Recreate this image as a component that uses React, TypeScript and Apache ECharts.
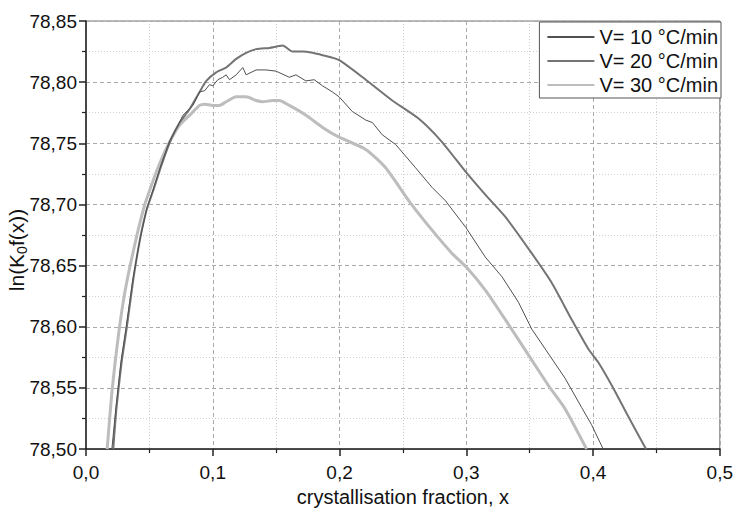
import React, { useEffect, useRef } from "react";
import * as echarts from "echarts";

const seriesNames = ["V= 10 °C/min", "V= 20 °C/min", "V= 30 °C/min"];
const xAxisName = "crystallisation fraction, x";
const yAxisName = "ln(K{sub|0}f(x))";
const xRange = { min: 0, max: 0.5, interval: 0.1 };
const yRange = { min: 78.5, max: 78.85, interval: 0.05 };

const v10: [number, number][] = [
  [0.0204, 78.5], [0.0236, 78.534], [0.0275, 78.571], [0.0314, 78.598], [0.037, 78.639],
  [0.0425, 78.671], [0.048, 78.697], [0.0535, 78.714], [0.0597, 78.734], [0.066, 78.752],
  [0.0713, 78.762], [0.0765, 78.773], [0.0844, 78.781], [0.0896, 78.792], [0.0936, 78.793],
  [0.0975, 78.798], [0.1001, 78.797], [0.104, 78.802], [0.1079, 78.804], [0.1106, 78.806],
  [0.1132, 78.802], [0.1185, 78.806], [0.1237, 78.812], [0.1263, 78.806], [0.1342, 78.81],
  [0.1421, 78.81], [0.1499, 78.809], [0.1604, 78.804], [0.1656, 78.806], [0.1735, 78.801],
  [0.18, 78.802], [0.1866, 78.797], [0.1944, 78.792], [0.1997, 78.788], [0.2101, 78.776],
  [0.2207, 78.769], [0.2259, 78.767], [0.2337, 78.757], [0.2443, 78.749], [0.26, 78.73],
  [0.273, 78.714], [0.2836, 78.703], [0.2998, 78.681], [0.315, 78.657], [0.3281, 78.641],
  [0.3412, 78.62], [0.3517, 78.598], [0.3622, 78.582], [0.3779, 78.558], [0.391, 78.534],
  [0.3988, 78.52], [0.408, 78.5],
];

const v20: [number, number][] = [
  [0.0215, 78.5], [0.0241, 78.534], [0.0281, 78.571], [0.032, 78.598], [0.0372, 78.638],
  [0.0425, 78.671], [0.0477, 78.695], [0.0529, 78.711], [0.0595, 78.732], [0.0674, 78.754],
  [0.0739, 78.767], [0.0818, 78.778], [0.0896, 78.792], [0.0949, 78.801], [0.1027, 78.808],
  [0.1106, 78.812], [0.1185, 78.819], [0.1263, 78.824], [0.1342, 78.827], [0.1447, 78.828],
  [0.1499, 78.829], [0.1551, 78.83], [0.163, 78.825], [0.1708, 78.825], [0.1787, 78.824],
  [0.1866, 78.822], [0.1997, 78.818], [0.2207, 78.802], [0.2416, 78.785], [0.2626, 78.77],
  [0.2809, 78.751], [0.2993, 78.727], [0.315, 78.708], [0.3307, 78.69], [0.3517, 78.66],
  [0.3674, 78.636], [0.3831, 78.606], [0.3962, 78.582], [0.4041, 78.571], [0.4159, 78.55],
  [0.4271, 78.528], [0.4418, 78.5],
];

const v30: [number, number][] = [
  [0.0167, 78.5], [0.0202, 78.544], [0.023, 78.571], [0.0262, 78.598], [0.0301, 78.625],
  [0.0346, 78.649], [0.0411, 78.679], [0.0464, 78.7], [0.049, 78.708], [0.0556, 78.727],
  [0.0621, 78.743], [0.0674, 78.754], [0.0739, 78.765], [0.0818, 78.773], [0.0896, 78.781],
  [0.0936, 78.782], [0.1001, 78.781], [0.1053, 78.781], [0.1106, 78.784], [0.1185, 78.788],
  [0.1263, 78.788], [0.1342, 78.785], [0.1394, 78.784], [0.1472, 78.785], [0.1525, 78.785],
  [0.1604, 78.781], [0.1735, 78.773], [0.1866, 78.763], [0.1997, 78.755], [0.2207, 78.745],
  [0.2364, 78.73], [0.2547, 78.703], [0.273, 78.679], [0.2888, 78.66], [0.2998, 78.649],
  [0.315, 78.63], [0.3307, 78.606], [0.349, 78.577], [0.3648, 78.552], [0.3779, 78.533],
  [0.3949, 78.5],
];

const FONT = "'Liberation Sans', Arial, sans-serif";

export default function App() {
  const ref = useRef<HTMLDivElement>(null);
  useEffect(() => {
    if (!ref.current) return;
    const chart = echarts.init(ref.current, null, { renderer: "svg" });
    const majorSplit = { show: true, lineStyle: { color: "#aaa", type: [4, 3], width: 1 } };
    const minorSplit = { show: true, lineStyle: { color: "#d0d0d0", type: [1, 2], width: 1 } };
    const axisLine = { show: true, lineStyle: { color: "#222", width: 1.5 } };
    chart.setOption({
      animation: false,
      backgroundColor: "#fff",
      textStyle: { fontFamily: FONT },
      grid: {
        left: 86, right: 14, top: 21, bottom: 57,
        show: true, borderColor: "#777", borderWidth: 1, backgroundColor: "transparent",
      },
      legend: {
        orient: "vertical",
        right: 15,
        top: 22,
        itemStyle: { opacity: 0 },
        itemWidth: 47,
        itemHeight: 20,
        itemGap: 4,
        padding: [5, 3, 3, 7],
        borderColor: "#555",
        borderWidth: 1,
        borderRadius: 0,
        backgroundColor: "#fff",
        textStyle: { fontSize: 20, color: "#111", fontFamily: FONT },
        data: seriesNames,
      },
      graphic: [
        {
          type: "text",
          x: 16,
          y: 250,
          rotation: Math.PI / 2,
          style: {
            text: yAxisName,
            fontSize: 21,
            fontFamily: FONT,
            fill: "#111",
            align: "center",
            verticalAlign: "middle",
            rich: {
              sub: { fontSize: 14, fontFamily: FONT, fill: "#111", padding: [11, 0, 0, 0] },
            },
          },
        },
      ],
      xAxis: {
        type: "value",
        min: xRange.min, max: xRange.max, interval: xRange.interval,
        name: xAxisName,
        nameLocation: "middle",
        nameGap: 36,
        nameTextStyle: { fontSize: 20, color: "#111", fontFamily: FONT },
        axisLine,
        axisTick: { show: true, length: 7, lineStyle: { color: "#222", width: 1.5 } },
        minorTick: { show: true, splitNumber: 2, length: 4, lineStyle: { color: "#222", width: 1.2 } },
        splitLine: majorSplit,
        minorSplitLine: minorSplit,
        axisLabel: {
          fontSize: 19, color: "#111", margin: 14, fontFamily: FONT,
          formatter: (v: number) => v.toFixed(1).replace(".", ","),
        },
      },
      yAxis: {
        type: "value",
        min: yRange.min, max: yRange.max, interval: yRange.interval,
        axisLine,
        axisTick: { show: true, length: 7, lineStyle: { color: "#222", width: 1.5 } },
        minorTick: { show: true, splitNumber: 2, length: 4, lineStyle: { color: "#222", width: 1.2 } },
        splitLine: majorSplit,
        minorSplitLine: minorSplit,
        axisLabel: {
          fontSize: 19, color: "#111", margin: 9, fontFamily: FONT,
          formatter: (v: number) => v.toFixed(2).replace(".", ","),
        },
      },
      series: [
        {
          name: seriesNames[0], type: "line", data: v10, symbol: "none", z: 5,
          lineStyle: { color: "#505050", width: 1 }, itemStyle: { color: "#505050" },
        },
        {
          name: seriesNames[1], type: "line", data: v20, symbol: "none", z: 4, smooth: 0.2,
          lineStyle: { color: "#747474", width: 2 }, itemStyle: { color: "#747474" },
        },
        {
          name: seriesNames[2], type: "line", data: v30, symbol: "none", z: 3, smooth: 0.2,
          lineStyle: { color: "#bdbdbd", width: 3 }, itemStyle: { color: "#bdbdbd" },
        },
      ],
    });
    return () => chart.dispose();
  }, []);
  return <div ref={ref} style={{ width: 736, height: 512, position: "absolute", left: 0, top: 0 }} />;
}
